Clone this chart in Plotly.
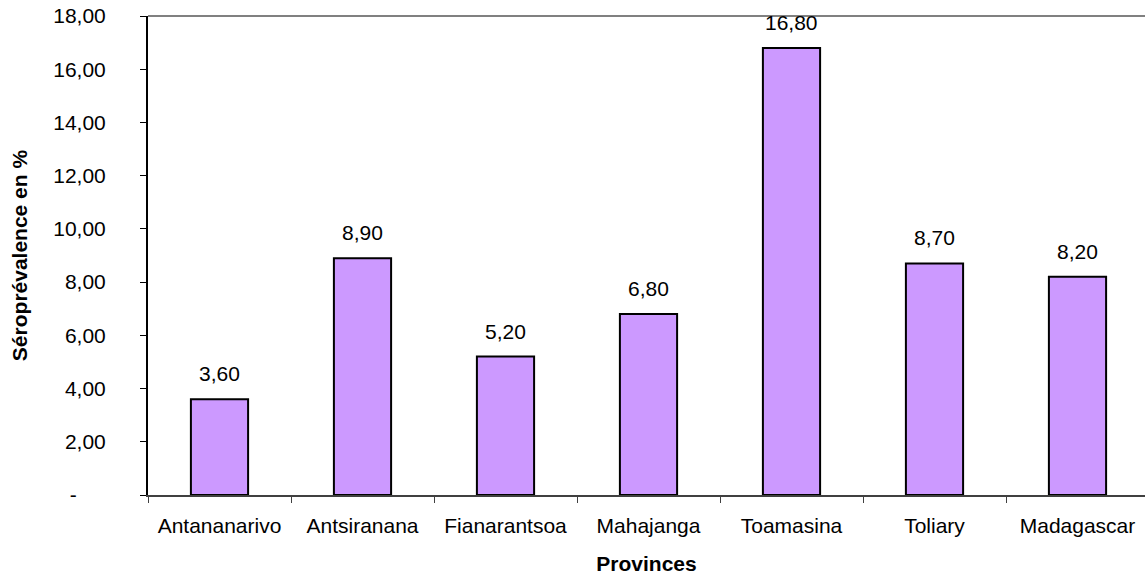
import plotly.graph_objects as go

provinces = ["Antananarivo", "Antsiranana", "Fianarantsoa", "Mahajanga",
             "Toamasina", "Toliary", "Madagascar"]
seroprevalence = [3.60, 8.90, 5.20, 6.80, 16.80, 8.70, 8.20]
y_ticks = [0, 2, 4, 6, 8, 10, 12, 14, 16, 18]
y_tick_labels = ["-\u00a0\u00a0\u00a0\u00a0\u00a0"] + [f"{v:.2f}".replace(".", ",") for v in y_ticks[1:]]

font = "Liberation Sans, Arial, sans-serif"

fig = go.Figure()
fig.add_trace(go.Bar(
    x=provinces, y=seroprevalence, width=0.4,
    marker=dict(color="#CC99FF", line=dict(color="black", width=2)),
))

for p, v in zip(provinces, seroprevalence):
    fig.add_annotation(x=p, y=v, text=f"{v:.2f}".replace(".", ","),
                       showarrow=False, yanchor="bottom", yshift=12,
                       font=dict(family=font, size=21, color="black"))

# grey top border of the plot area
fig.add_shape(type="line", xref="paper", yref="paper", x0=0, x1=1, y0=1, y1=1,
              line=dict(color="#808080", width=2))

fig.update_layout(
    width=1145, height=578,
    margin=dict(l=148, r=0, t=16, b=83),
    paper_bgcolor="white", plot_bgcolor="white",
    showlegend=False,
    font=dict(family=font, size=21, color="black"),
    xaxis=dict(
        range=[-0.5, 6.472], showgrid=False,
        showline=True, linecolor="#404040", linewidth=1.5,
        ticks="outside", tickson="boundaries", ticklen=6, tickcolor="#404040",
        tickfont=dict(size=21), ticklabelstandoff=11,
        title=dict(text="<b>Provinces</b>", font=dict(size=21), standoff=20),
    ),
    yaxis=dict(
        range=[0, 18], showgrid=False, zeroline=False,
        showline=True, linecolor="black", linewidth=2,
        ticks="outside", ticklen=6, tickcolor="black",
        tickvals=y_ticks, ticktext=y_tick_labels,
        tickfont=dict(size=21), ticklabelstandoff=30,
        title=dict(text="<b>Séroprévalence en %</b>", font=dict(size=21), standoff=20),
    ),
)

# drop the browser's default 8px body margin so the figure sits at the page corner
fig.write_html("out.html", config={"displayModeBar": False},
               post_script="document.body.style.margin='0';")
